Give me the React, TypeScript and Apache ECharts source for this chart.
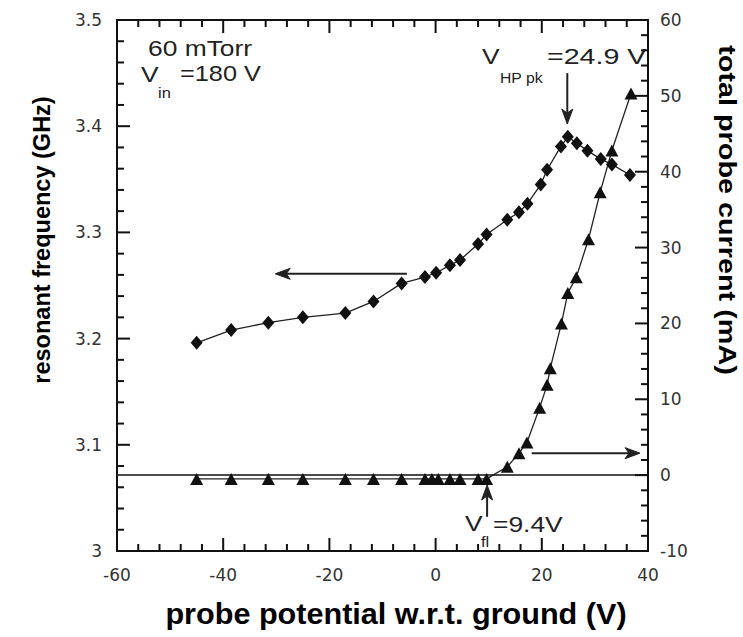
import React, { useEffect, useRef } from "react";
import * as echarts from "echarts";

// Resonant frequency (GHz) vs probe potential (V) — diamonds, left axis
const potentialFreq = [-45, -38.5, -31.5, -25, -17, -11.7, -6.4, -2, 0.1, 2.7, 4.6, 8, 9.6, 13.5, 15.7, 17.3, 19.8, 21, 23.6, 24.9, 26.6, 28.6, 31.1, 33.2, 36.6];
const freqGHz = [3.196, 3.208, 3.215, 3.22, 3.224, 3.235, 3.252, 3.258, 3.262, 3.269, 3.274, 3.289, 3.298, 3.312, 3.319, 3.327, 3.345, 3.359, 3.381, 3.39, 3.384, 3.377, 3.369, 3.364, 3.354];

// Total probe current (mA) vs probe potential (V) — triangles, right axis
const potentialCurr = [-45, -38.5, -31.5, -25, -17, -11.7, -6.4, -2, -0.7, 0.5, 2.7, 4.6, 8, 9.6, 13.5, 15.7, 17.2, 19.6, 21, 21.6, 23.7, 24.9, 26.5, 28.8, 31, 33.2, 36.8];
const currentMA = [-0.5, -0.5, -0.5, -0.5, -0.5, -0.5, -0.5, -0.5, -0.5, -0.5, -0.5, -0.5, -0.5, -0.5, 1.1, 2.9, 4.3, 8.9, 11.9, 14.1, 20.0, 24.0, 26.1, 31.1, 37.3, 42.8, 50.3];

// Axis ranges: [min, max, major interval, minor divisions]
const xRange = [-60, 40, 20, 5];
const freqRange = [3, 3.5, 0.1, 5];
const currRange = [-10, 60, 10, 5];

// Annotation arrows in data coordinates: [x1, y1, x2, y2] (tip at x2, y2)
const freqArrows = [
  [-5.4, 3.261, -30.2, 3.261],
  [24.8, 3.45, 24.8, 3.402],
];
const currArrows = [
  [18.1, 2.9, 38.5, 2.9],
  [9.7, -5.5, 9.7, -1.3],
];

const TICK_FONT = "DejaVu Sans";
const AX = "#111";
const MAJ = 13;
const MIN = 7;

// tick positions along an axis range: [value, isMajor]
function tickValues(r: number[]) {
  const [min, max, step, div] = r;
  const out: number[][] = [];
  const n = Math.round((max - min) / step) * div;
  for (let i = 0; i <= n; i++) {
    out.push([+(min + (i * step) / div).toFixed(6), i % div === 0 ? 1 : 0]);
  }
  return out;
}

function seg(x1: number, y1: number, x2: number, y2: number) {
  return { type: "line", shape: { x1, y1, x2, y2 }, style: { stroke: AX, lineWidth: 2 } };
}

function arrowItem(p1: number[], p2: number[]) {
  const dx = p2[0] - p1[0];
  const dy = p2[1] - p1[1];
  const len = Math.sqrt(dx * dx + dy * dy) || 1;
  const ux = dx / len;
  const uy = dy / len;
  const nx = -uy;
  const ny = ux;
  const L = 15;
  const W = 5.5;
  const notch = 11;
  const bx = p2[0] - ux * L;
  const by = p2[1] - uy * L;
  const qx = p2[0] - ux * notch;
  const qy = p2[1] - uy * notch;
  return {
    type: "group",
    children: [
      { type: "line", shape: { x1: p1[0], y1: p1[1], x2: qx, y2: qy }, style: { stroke: "#222", lineWidth: 2 } },
      {
        type: "polygon",
        shape: { points: [[p2[0], p2[1]], [bx + nx * W, by + ny * W], [qx, qy], [bx - nx * W, by - ny * W]] },
        style: { fill: "#222", stroke: "#222", lineWidth: 1 },
      },
    ],
  };
}

export default function App() {
  const ref = useRef<HTMLDivElement>(null);

  useEffect(() => {
    const chart = echarts.init(ref.current!, null, { renderer: "svg" });
    const label = (margin: number, show = true) => ({
      show,
      margin,
      fontFamily: TICK_FONT,
      fontSize: 17,
      color: "#333",
    });
    const axisBase = (r: number[], position: string, lab: any) => ({
      type: "value",
      position,
      min: r[0],
      max: r[1],
      interval: r[2],
      axisLine: { show: true, onZero: false, lineStyle: { color: AX, width: 2 } },
      axisTick: { show: false },
      minorTick: { show: false },
      splitLine: { show: false },
      axisLabel: lab,
    });

    const txt = (text: string, x: number, y: number, size: number, scaleX = 1.2) => ({
      type: "text",
      x,
      y,
      scaleX,
      silent: true,
      style: { text, fill: "#222", fontFamily: "Liberation Sans", fontSize: size, align: "left", verticalAlign: "middle" },
    });
    const title = (text: string, x: number, y: number, size: number, rotation: number, scaleX: number) => ({
      type: "text",
      x,
      y,
      rotation,
      scaleX,
      silent: true,
      style: { text, fill: "#000", fontFamily: "Liberation Sans", fontWeight: "bold", fontSize: size, align: "center", verticalAlign: "middle" },
    });

    const segSeries = (yAxisIndex: number, data: number[][], render: (api: any) => any) => ({
      type: "custom",
      xAxisIndex: 0,
      yAxisIndex,
      silent: true,
      clip: false,
      z: 4,
      encode: { x: [0, 2], y: [1, 3] },
      data,
      renderItem: (_params: any, api: any) => render(api),
    });

    const option: any = {
      animation: false,
      backgroundColor: "#fff",
      grid: { left: 117, right: 95, top: 20, bottom: 86 },
      xAxis: [axisBase(xRange, "bottom", label(15)), axisBase(xRange, "top", label(15, false))],
      yAxis: [axisBase(freqRange, "left", label(15)), axisBase(currRange, "right", label(12))],
      series: [
        {
          name: "resonant frequency",
          type: "line",
          xAxisIndex: 0,
          yAxisIndex: 0,
          data: potentialFreq.map((x, i) => [x, freqGHz[i]]),
          symbol: "diamond",
          symbolSize: [12, 14],
          showAllSymbol: true,
          itemStyle: { color: "#111" },
          lineStyle: { color: "#222", width: 1.3 },
          z: 3,
        },
        {
          name: "total probe current",
          type: "line",
          xAxisIndex: 0,
          yAxisIndex: 1,
          data: potentialCurr.map((x, i) => [x, currentMA[i]]),
          symbol: "triangle",
          symbolSize: [13, 12],
          showAllSymbol: true,
          itemStyle: { color: "#111" },
          lineStyle: { color: "#222", width: 1.3 },
          z: 3,
          markLine: {
            silent: true,
            symbol: ["none", "none"],
            label: { show: false },
            lineStyle: { color: "#111", width: 1.6, type: "solid" },
            data: [{ yAxis: 0 }],
          },
        },
        // annotation arrows
        segSeries(0, freqArrows, (api) =>
          arrowItem(api.coord([api.value(0), api.value(1)]), api.coord([api.value(2), api.value(3)]))
        ),
        segSeries(1, currArrows, (api) =>
          arrowItem(api.coord([api.value(0), api.value(1)]), api.coord([api.value(2), api.value(3)]))
        ),
        // bottom & top axis ticks
        segSeries(
          0,
          tickValues(xRange).map(([v, m]) => [v, freqRange[0], v, freqRange[1], m]),
          (api) => {
            const b = api.coord([api.value(0), api.value(1)]);
            const t = api.coord([api.value(2), api.value(3)]);
            const len = api.value(4) === 1 ? MAJ : MIN;
            return { type: "group", children: [seg(b[0], b[1], b[0], b[1] - len), seg(t[0], t[1], t[0], t[1] + len)] };
          }
        ),
        // left axis ticks
        segSeries(
          0,
          tickValues(freqRange).map(([v, m]) => [xRange[0], v, xRange[1], v, m]),
          (api) => {
            const l = api.coord([api.value(0), api.value(1)]);
            const len = api.value(4) === 1 ? MAJ : MIN;
            return { type: "group", children: [seg(l[0], l[1], l[0] + len, l[1])] };
          }
        ),
        // right axis ticks
        segSeries(
          1,
          tickValues(currRange).map(([v, m]) => [xRange[0], v, xRange[1], v, m]),
          (api) => {
            const r = api.coord([api.value(2), api.value(3)]);
            const len = api.value(4) === 1 ? MAJ : MIN;
            return { type: "group", children: [seg(r[0], r[1], r[0] - len, r[1])] };
          }
        ),
      ],
      graphic: [
        txt("60 mTorr", 148, 48, 22),
        txt("V", 141, 74, 22),
        txt("in", 158, 93, 15, 1.1),
        txt("=180 V", 180, 74, 22, 1.15),
        txt("V", 482, 56, 22),
        txt("HP pk", 500, 78, 15, 1.05),
        txt("=24.9 V", 547, 56, 22, 1.3),
        txt("V", 465, 523, 22),
        txt("fl", 481, 542, 15, 1.1),
        txt("=9.4V", 493, 524, 22, 1.2),
        title("probe potential w.r.t. ground (V)", 396, 614, 30, 0, 1.02),
        title("resonant frequency (GHz)", 41, 240, 24, Math.PI / 2, 0.98),
        title("total probe current (mA)", 727, 210, 24, -Math.PI / 2, 1.2),
      ],
    };
    chart.setOption(option);

    return () => chart.dispose();
  }, []);

  return (
    <div
      ref={ref}
      style={{ position: "fixed", left: 0, top: 0, width: 743, height: 637, background: "#fff" }}
    />
  );
}
